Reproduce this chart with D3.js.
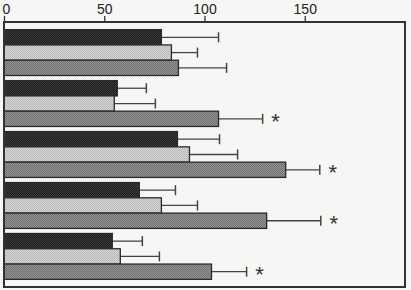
<!DOCTYPE html>
<html><head><meta charset="utf-8">
<script src="https://cdn.jsdelivr.net/npm/d3@7"></script>
<style>body{margin:0;background:#f6f6f4}svg{display:block}</style>
</head><body>
<script>
const groups = ["G1","G2","G3","G4","G5"];
const seriesNames = ["black","light","hatched"];
const meanBlack   = [78.5, 56.5, 86.5, 67.5, 54];
const errBlack    = [107, 71, 107.5, 85.5, 69];
const meanLight   = [83.5, 55, 92.5, 78.5, 58];
const errLight    = [96.5, 75.5, 116.5, 96.5, 77.5];
const meanHatched = [87, 107, 140.5, 131, 103.5];
const errHatched  = [111, 129, 157.5, 158, 121];
const significant = [false, true, true, true, true];
const tickValues  = [0, 50, 100, 150];

const W = 411, H = 290;
const svg = d3.select("body").append("svg").attr("width", W).attr("height", H);
const defs = svg.append("defs");
function pat(id, bg, fg, size){
  const p = defs.append("pattern").attr("id", id).attr("patternUnits","userSpaceOnUse")
    .attr("width", size).attr("height", size);
  p.append("rect").attr("width", size).attr("height", size).attr("fill", bg);
  p.append("rect").attr("width", 1).attr("height", 1).attr("fill", fg);
  p.append("rect").attr("x", size/2).attr("y", size/2).attr("width", 1).attr("height", 1).attr("fill", fg);
}
pat("pBlack", "#1f1f1f", "#3a3a3a", 2);
pat("pLight", "#d6d6d4", "#b8b8b6", 2);
pat("pHatch", "#959594", "#6e6e6d", 2);
const fills = {black:"url(#pBlack)", light:"url(#pLight)", hatched:"url(#pHatch)"};

const m = {left:4, right:6, top:22, bottom:3};
const x = d3.scaleLinear().domain([0, 200]).range([m.left, W - m.right]);
const y = d3.scaleBand().domain(groups).range([m.top, H - m.bottom]).paddingInner(0.1).paddingOuter(0.15);
const ys = d3.scaleBand().domain(seriesNames).range([0, y.bandwidth()]);

const data = [];
groups.forEach((g,i)=>{
  data.push({g, s:"black", v:meanBlack[i], e:errBlack[i], sig:false});
  data.push({g, s:"light", v:meanLight[i], e:errLight[i], sig:false});
  data.push({g, s:"hatched", v:meanHatched[i], e:errHatched[i], sig:significant[i]});
});

// axis on top
const ax = svg.append("g").attr("transform", `translate(0,${m.top})`)
  .call(d3.axisTop(x).tickValues(tickValues).tickSize(6).tickPadding(2));
ax.select(".domain").remove();
ax.selectAll(".tick line").attr("stroke","#333").attr("stroke-width",1.3);
ax.selectAll(".tick text").attr("fill","#222").attr("font-family","Liberation Sans, Arial, sans-serif").attr("font-size",14);
ax.selectAll(".tick").filter(d=>d===0).select("text").attr("dx", 2);

const bars = svg.append("g");
data.forEach(d=>{
  const yy = y(d.g) + ys(d.s);
  const h = ys.bandwidth();
  const cy = yy + h/2;
  bars.append("line").attr("x1", x(d.v)).attr("x2", x(d.e)).attr("y1", cy).attr("y2", cy)
    .attr("stroke","#444").attr("stroke-width",1.3);
  bars.append("line").attr("x1", x(d.e)).attr("x2", x(d.e)).attr("y1", cy-5).attr("y2", cy+5)
    .attr("stroke","#444").attr("stroke-width",1.5);
  bars.append("rect").attr("x", x(0)).attr("y", yy).attr("width", x(d.v)-x(0)).attr("height", h)
    .attr("fill", fills[d.s]).attr("stroke","#2a2a2a").attr("stroke-width",1.3);
  if (d.sig) {
    bars.append("text").attr("x", x(d.e)+13).attr("y", cy+10).attr("text-anchor","middle")
      .attr("font-family","Liberation Sans, Arial, sans-serif").attr("font-size",22).attr("fill","#333").text("*");
  }
});

svg.append("rect").attr("x", m.left).attr("y", m.top).attr("width", W-m.right-m.left).attr("height", H-m.bottom-m.top)
  .attr("fill","none").attr("stroke","#333").attr("stroke-width",2);
</script>
</body></html>
